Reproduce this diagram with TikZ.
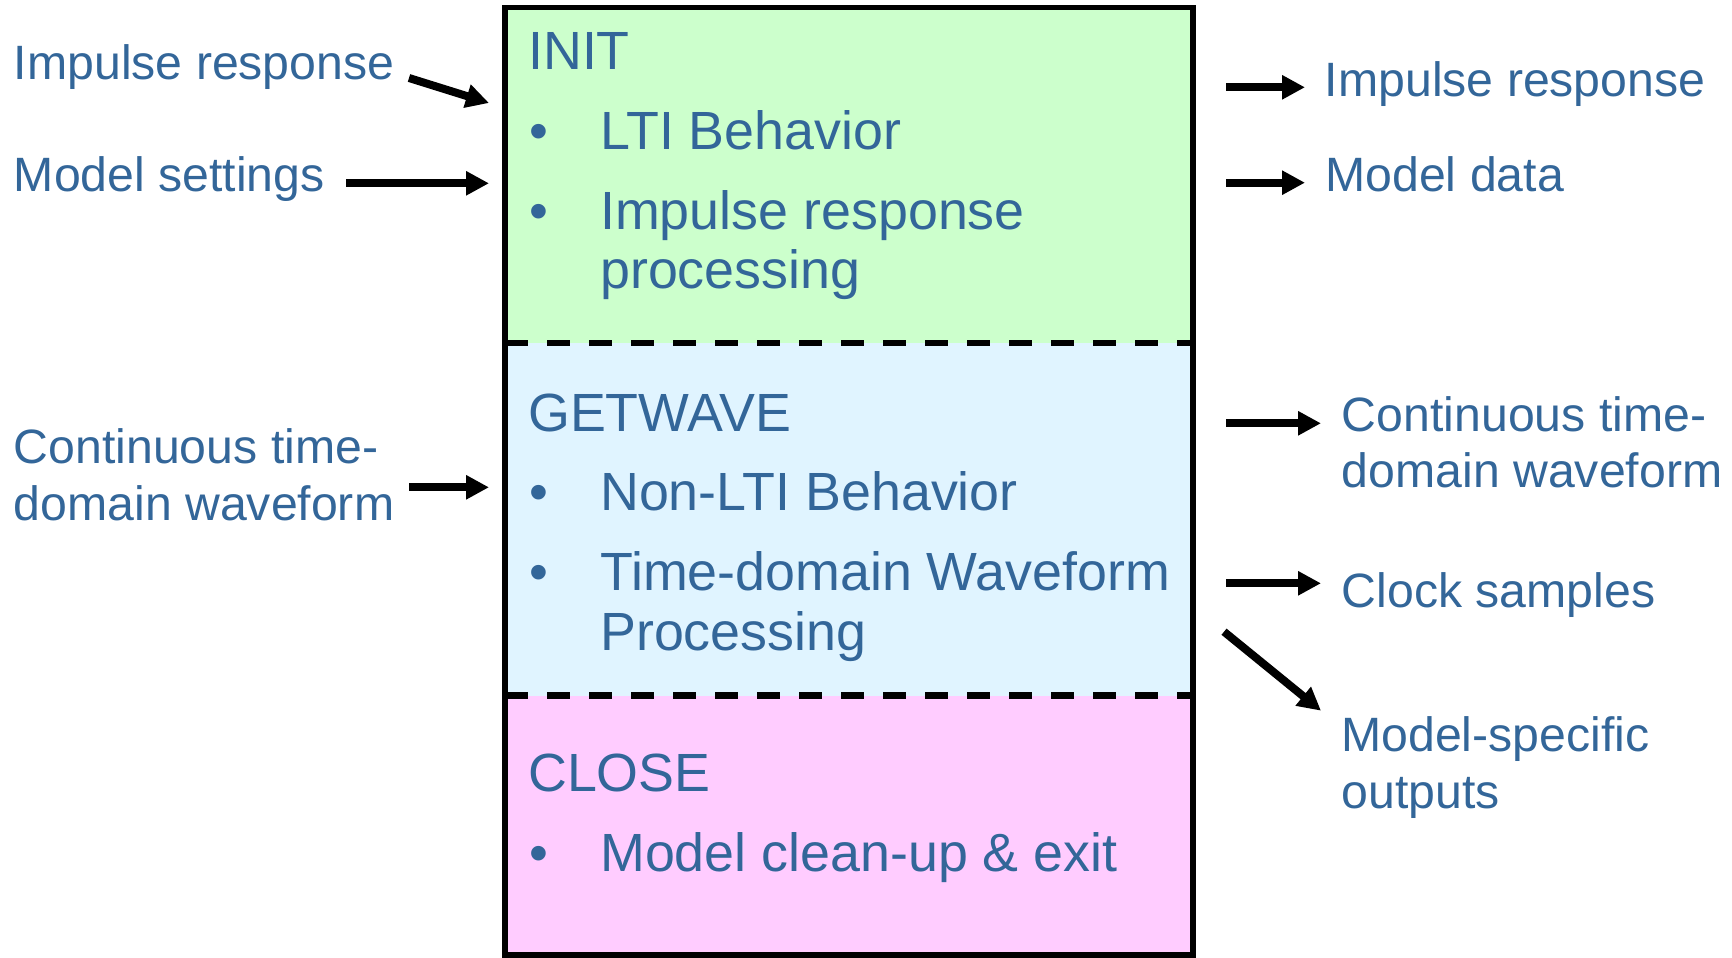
\documentclass[tikz,border=0pt]{standalone}
\usepackage{fontspec}
\setmainfont{Liberation Sans}
\usetikzlibrary{arrows.meta}
\definecolor{txtblue}{RGB}{51,102,153}
\definecolor{initfill}{RGB}{204,255,204}
\definecolor{getfill}{RGB}{224,244,255}
\definecolor{closefill}{RGB}{255,204,255}
\newcommand\mylines[1]{\begin{tabular}[t]{@{}l@{}}#1\end{tabular}}
\begin{document}
\begin{tikzpicture}[x=0.5pt,y=-0.5pt,
  sidelbl/.style={anchor=base west, inner sep=0pt, text=txtblue, font=\fontsize{24.1}{28.4}\selectfont},
  boxlbl/.style={anchor=base west, inner sep=0pt, text=txtblue, font=\fontsize{26.9}{29.75}\selectfont},
  bul/.style={anchor=base, inner sep=0pt, text=txtblue, font=\fontsize{26.9}{29.75}\selectfont},
  section/.style={draw=none, inner sep=0pt, outer sep=0pt, anchor=north west, minimum width=344pt},
  arr/.style={line width=4pt, -{Triangle[length=11.5pt,width=11.5pt]}},
  sepline/.style={line width=3.2pt, dash pattern=on 11.67pt off 9.33pt},
  frame/.style={line width=2.75pt}
]
\useasboundingbox (0,0) rectangle (1732,957);

% sections
\node[section, fill=initfill, minimum height=167.75pt] (init) at (505,7.5) {};
\node[section, fill=getfill, minimum height=176.25pt] (getwave) at (505,343) {};
\node[section, fill=closefill, minimum height=129.75pt] (close) at (505,695.5) {};
\draw[sepline] (init.south west) -- (init.south east);
\draw[sepline] (getwave.south west) -- (getwave.south east);
\draw[frame] (init.north west) rectangle (close.south east);

% INIT text
\node[boxlbl] (tinit) at (527.8,70) {INIT};
\node[bul] (bi1) at (538.5,149.3) {•};
\node[boxlbl] (ti1) at (599.8,149.3) {LTI Behavior};
\node[bul] (bi2) at (538.5,229.3) {•};
\node[boxlbl] (ti2) at (599.8,229.3) {\mylines{Impulse response\\processing}};

% GETWAVE text
\node[boxlbl] (tget) at (527.8,431) {GETWAVE};
\node[bul] (bg1) at (538.5,510.7) {•};
\node[boxlbl] (tg1) at (599.8,510.7) {Non-LTI Behavior};
\node[bul] (bg2) at (538.5,590.7) {•};
\node[boxlbl] (tg2) at (599.8,590.7) {\mylines{Time-domain Waveform\\Processing}};

% CLOSE text
\node[boxlbl] (tclose) at (527.8,791.7) {CLOSE};
\node[bul] (bc1) at (538.5,871.7) {•};
\node[boxlbl] (tc1) at (599.8,871.7) {Model clean-up \& exit};

% left labels
\node[sidelbl] (lin1) at (13.5,80) {Impulse response};
\node[sidelbl] (lin2) at (13.5,191.7) {Model settings};
\node[sidelbl] (lin3) at (13.5,463.3) {\mylines{Continuous time-\\domain waveform}};

% right labels
\node[sidelbl] (rout1) at (1324.5,97) {Impulse response};
\node[sidelbl] (rout2) at (1325,191.7) {Model data};
\node[sidelbl] (rout3) at (1341.5,431) {\mylines{Continuous time-\\domain waveform}};
\node[sidelbl] (rout4) at (1341.5,607.3) {Clock samples};
\node[sidelbl] (rout5) at (1341,751.7) {\mylines{Model-specific\\outputs}};

% arrow end points
\coordinate (a1s) at (409,78);
\coordinate (a1e) at (489,103);
\coordinate (a2s) at (346,183.3);
\coordinate (a2e) at (489,183.3);
\coordinate (a3s) at (409,487.3);
\coordinate (a3e) at (489,487.3);
\coordinate (b1s) at (1226,87.3);
\coordinate (b1e) at (1305,87.3);
\coordinate (b2s) at (1226,182.7);
\coordinate (b2e) at (1305,182.7);
\coordinate (b3s) at (1226,423.3);
\coordinate (b3e) at (1321,423.3);
\coordinate (b4s) at (1226,583.3);
\coordinate (b4e) at (1321,583.3);
\coordinate (b5s) at (1224,631.7);
\coordinate (b5e) at (1321,710.7);

\draw[arr] (a1s) -- (a1e);
\draw[arr] (a2s) -- (a2e);
\draw[arr] (a3s) -- (a3e);
\draw[arr] (b1s) -- (b1e);
\draw[arr] (b2s) -- (b2e);
\draw[arr] (b3s) -- (b3e);
\draw[arr] (b4s) -- (b4e);
\draw[arr] (b5s) -- (b5e);
\end{tikzpicture}
\end{document}
